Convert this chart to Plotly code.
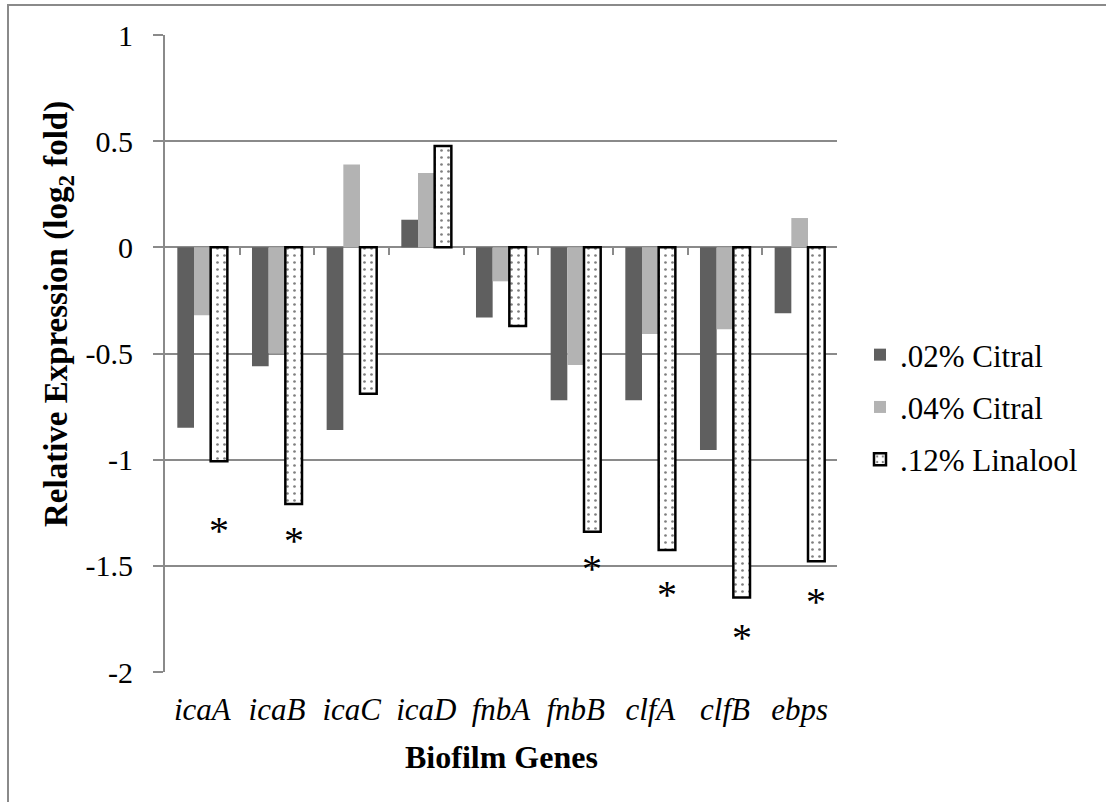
import plotly.graph_objects as go

genes = ["icaA", "icaB", "icaC", "icaD", "fnbA", "fnbB", "clfA", "clfB", "ebps"]
citral_02 = [-0.85, -0.56, -0.86, 0.13, -0.33, -0.72, -0.72, -0.955, -0.31]
citral_04 = [-0.32, -0.50, 0.39, 0.35, -0.16, -0.554, -0.408, -0.386, 0.138]
linalool_12 = [-1.007, -1.209, -0.69, 0.477, -0.37, -1.34, -1.426, -1.649, -1.478]
# significance markers (*) on the linalool series: gene and level
star_genes = ["icaA", "icaB", "fnbB", "clfA", "clfB", "ebps"]
star_levels = [-1.294, -1.341, -1.473, -1.595, -1.798, -1.628]
ytick_vals = [1, 0.5, 0, -0.5, -1, -1.5, -2]
ytick_text = ["1", "0.5", "0", "-0.5", "-1", "-1.5", "-2"]

FONT = "Liberation Serif"
W, H = 1106, 802
ML, MR, MT, MB = 165, 269, 35, 130
PW, PH = W - ML - MR, H - MT - MB
BARGAP = 0.33
GRID = "#8a8a8a"

xs = list(range(len(genes)))

fig = go.Figure()
fig.add_bar(x=xs, y=citral_02, name=".02% Citral", marker=dict(color="#5f5f5f", line=dict(width=0)),
            legendgroup="a")
fig.add_bar(x=xs, y=citral_04, name=".04% Citral", marker=dict(color="#b3b3b3", line=dict(width=0)),
            legendgroup="b")
fig.add_bar(x=xs, y=linalool_12, name=".12% Linalool",
            marker=dict(color="white", line=dict(color="black", width=2.5),
                        pattern=dict(shape=".", fgcolor="black", bgcolor="white", size=7, solidity=0.12)),
            legendgroup="c")

# dummy trace on the boundary-tick axis
fig.add_scatter(x=[-0.5, 8.5], y=[None, None], xaxis="x2", showlegend=False, hoverinfo="skip")

bar_w = (1 - BARGAP) / 3
annotations = []
for g, lv in zip(star_genes, star_levels):
    annotations.append(dict(x=genes.index(g) + bar_w, y=lv, xref="x", yref="y", text="*",
                            showarrow=False, font=dict(family=FONT, size=40, color="black"),
                            yanchor="middle", yshift=-8))

def px_to_paper_x(px):
    return (px - ML) / PW

def px_to_paper_y(py):
    return (H - MB - py) / PH

annotations.append(dict(text="<b>Relative Expression (log<sub>2</sub> fold)</b>", textangle=-90,
                        xref="paper", yref="paper", x=px_to_paper_x(58), y=px_to_paper_y(314),
                        xanchor="center", yanchor="middle", showarrow=False,
                        font=dict(family=FONT, size=33, color="black")))
annotations.append(dict(text="<b>Biofilm Genes</b>", xref="paper", yref="paper",
                        x=0.5, y=px_to_paper_y(757), xanchor="center", yanchor="middle",
                        showarrow=False, font=dict(family=FONT, size=32, color="black")))

shapes = [dict(type="rect", xref="paper", yref="paper",
               x0=px_to_paper_x(8), x1=px_to_paper_x(W + 20),
               y0=px_to_paper_y(H + 20), y1=px_to_paper_y(5),
               line=dict(color="#8a8a8a", width=2), fillcolor="rgba(0,0,0,0)", layer="below")]

fig.update_layout(
    width=W, height=H,
    margin=dict(l=ML, r=MR, t=MT, b=MB, autoexpand=False),
    paper_bgcolor="white", plot_bgcolor="white",
    barmode="group", bargap=BARGAP, bargroupgap=0,
    font=dict(family=FONT, size=30, color="black"),
    showlegend=True,
    legend=dict(x=px_to_paper_x(860), y=px_to_paper_y(407), xanchor="left", yanchor="middle",
                font=dict(family=FONT, size=31, color="black"), tracegroupgap=9,
                bgcolor="rgba(0,0,0,0)", borderwidth=0),
    xaxis=dict(range=[-0.5, 8.5], tickvals=xs, ticktext=[f"<i>{g}</i>" for g in genes],
               showgrid=False, zeroline=False, showline=False, ticks="", ticklabelstandoff=16,
               tickfont=dict(family=FONT, size=31, color="black")),
    xaxis2=dict(range=[-0.5, 8.5], overlaying="x", anchor="free", position=2 / 3, side="bottom",
                tickvals=[i + 0.5 for i in xs[:-1]], ticks="outside", ticklen=7, tickwidth=2,
                tickcolor=GRID, showticklabels=False, showgrid=False, zeroline=False, showline=False),
    yaxis=dict(range=[-2, 1], tickvals=ytick_vals, ticktext=ytick_text,
               showgrid=True, gridcolor=GRID, gridwidth=2, zeroline=False,
               showline=True, linecolor=GRID, linewidth=2,
               ticks="outside", ticklen=10, tickwidth=2, tickcolor=GRID, ticklabelstandoff=14,
               tickfont=dict(family=FONT, size=30, color="black")),
    annotations=annotations,
    shapes=shapes,
)

fig.write_html("out.html")
